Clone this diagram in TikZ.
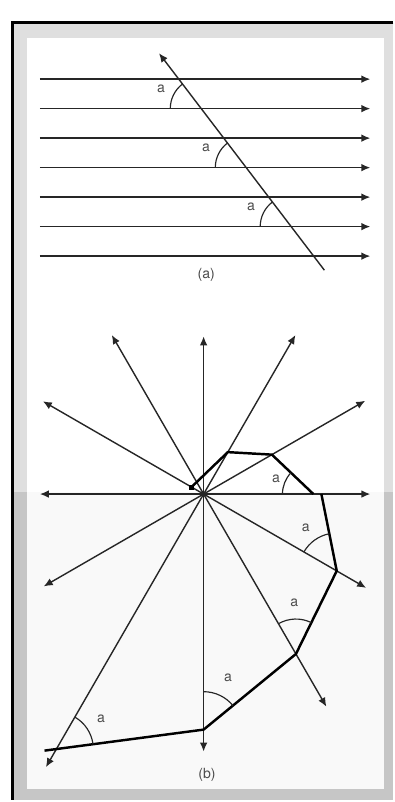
\documentclass[tikz,border=0pt]{standalone}
\usepackage{fontspec}
\setsansfont{TeX Gyre Heros}
\usetikzlibrary{angles,quotes,arrows.meta}

\tikzset{
  ray/.style={->, line width=1.2pt, black!85},
  front/.style={line width=2.1pt, black, line join=round},
  angmark/.style={draw, line width=1pt, black!85, text=black!70,
    font=\sffamily\fontsize{12}{14}\selectfont},
  caption/.style={text=black!70, font=\sffamily\fontsize{12}{14}\selectfont},
}

\begin{document}
\begin{tikzpicture}[x=0.3mm, y=0.3mm, >={Latex[length=2.7mm, width=2.3mm]}]
            % Frame
            \fill[white] (0,0) rectangle (394,802);
            \fill[gray!25] (14,309) rectangle (394,778);
            \fill[gray!45] (14,0) rectangle (394,309);
            \fill[white] (27,309) rectangle (385,764);
            \fill[gray!5] (27,12) rectangle (385,309);
            \draw[line width=2.6pt] (394,779.5) -- (12.5,779.5) -- (12.5,0);
            % (a) parallel lines and the crossing line
            \foreach \i in {1,...,7} {
                    \coordinate (l\i) at (40, {752.25-29.55*\i});
                    \draw[ray] (l\i) -- (371, {752.25-29.55*\i});
                }
            \coordinate (dtop) at (159.3,748.7);
            \coordinate (dbot) at (325,531.3);
            \draw[ray] (dbot) -- (dtop);
            \coordinate (x2) at (201.6,693.15);
            \coordinate (x4) at (246.7,634.05);
            \coordinate (x6) at (291.7,574.95);
            \foreach \n in {2,4,6} {
                    \pic[angmark, "a", angle radius=9.3mm, angle eccentricity=1.45] {angle=dtop--x\n--l\n};
                }
            \node[caption] (capa) at (206.7,527) {(a)};
            % (b) rays from the centre
            \coordinate (O) at (204,307);
            \foreach \a/\r in {0/167, 30/187, 60/184, 90/158, 120/184, 150/186, 180/164,
                    210/185, 240/316, 270/258, 300/246, 330/188} {
                    \draw[ray] (O) -- ++(\a:\r) coordinate (t\a);
                }
            % Wave fronts
            \path (O) ++(150:14) coordinate (p1)
                  (O) ++(60:48.5) coordinate (p2)
                  (O) ++(30:79) coordinate (p3)
                  (O) ++(0:110) coordinate (p4)
                  (O) ++(0:118) coordinate (q0)
                  (O) ++(330:154) coordinate (q1)
                  (O) ++(300:185) coordinate (q2)
                  (O) ++(270:236) coordinate (q3)
                  (O) ++(240:295) coordinate (q4);
            \fill (p1) +(-2.5,-2.5) rectangle +(2.5,2.5);
            \draw[front] (p1) -- (p2) -- (p3) -- (p4);
            \draw[front, shorten >=-3.6mm] (q0) -- (q1) -- (q2) -- (q3) -- (q4);
            % Angles
            \pic[angmark, "a", angle radius=9.3mm, angle eccentricity=1.3] {angle=p3--p4--O};
            \pic[angmark, "a", angle radius=11.4mm, angle eccentricity=1.4] {angle=q0--q1--O};
            \pic[angmark, "a", angle radius=10.5mm, angle eccentricity=1.47] {angle=q1--q2--O};
            \pic[angmark, "a", angle radius=11.4mm, angle eccentricity=1.5] {angle=q2--q3--O};
            \pic[angmark, "a", angle radius=11.1mm, angle eccentricity=1.45] {angle=q3--q4--O};
            \node[caption] (capb) at (207.3,25.3) {(b)};
        \end{tikzpicture}
\end{document}
